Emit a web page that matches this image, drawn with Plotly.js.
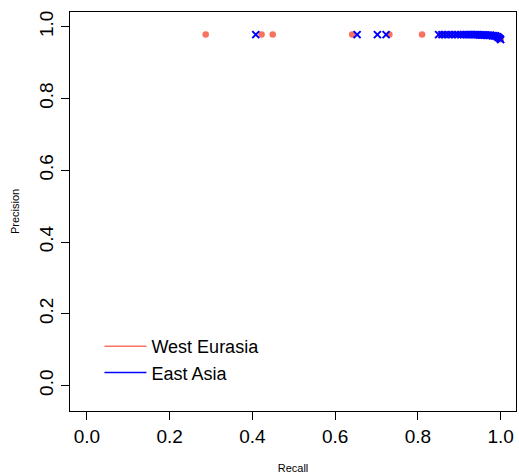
<!DOCTYPE html>
<html>
<head>
<meta charset="utf-8">
<script src="https://cdn.plot.ly/plotly-3.0.1.min.js"></script>
<style>html,body{margin:0;padding:0;background:#fff;}</style>
</head>
<body>
<div id="chart" style="width:519px;height:474px;"></div>
<script>
// West Eurasia (red circles)
const westRecall = [0.287, 0.422, 0.449, 0.641, 0.731, 0.810,
  0.855, 0.862, 0.870, 0.878, 0.886, 0.893, 0.900, 0.906, 0.912, 0.918,
  0.923, 0.928, 0.933, 0.938, 0.942, 0.946, 0.950, 0.954, 0.958, 0.962,
  0.966, 0.970, 0.974, 0.978, 0.982, 0.986, 0.990, 0.994, 0.997, 1.000];
const westPrecision = [0.978, 0.978, 0.978, 0.978, 0.978, 0.978,
  0.978, 0.978, 0.978, 0.978, 0.978, 0.978, 0.978, 0.978, 0.978, 0.978,
  0.978, 0.978, 0.978, 0.978, 0.978, 0.978, 0.977, 0.977, 0.977, 0.977,
  0.977, 0.976, 0.976, 0.976, 0.975, 0.975, 0.974, 0.972, 0.969, 0.965];
// East Asia (blue crosses)
const eastRecall = [0.408, 0.653, 0.702, 0.723,
  0.850, 0.858, 0.866, 0.874, 0.882, 0.890, 0.897, 0.904, 0.910, 0.916,
  0.921, 0.926, 0.931, 0.936, 0.940, 0.944, 0.948, 0.952, 0.956, 0.960,
  0.964, 0.968, 0.972, 0.976, 0.980, 0.984, 0.988, 0.992, 0.995, 0.998, 1.000];
const eastPrecision = [0.978, 0.978, 0.978, 0.978,
  0.978, 0.978, 0.978, 0.978, 0.978, 0.978, 0.978, 0.978, 0.978, 0.978,
  0.978, 0.978, 0.978, 0.978, 0.978, 0.978, 0.977, 0.977, 0.977, 0.977,
  0.977, 0.976, 0.976, 0.976, 0.975, 0.975, 0.974, 0.972, 0.970, 0.967, 0.964];
const tickVals = [0, 0.2, 0.4, 0.6, 0.8, 1.0];
const tickText = ["0.0", "0.2", "0.4", "0.6", "0.8", "1.0"];
const seriesNames = ["West Eurasia", "East Asia"];
const colWest = "#F8735F";
const colEast = "#0000FF";

const font = "Liberation Sans, Arial, Helvetica, sans-serif";

const traces = [
  {x: westRecall, y: westPrecision, type: "scatter", mode: "markers",
   marker: {symbol: "circle", size: 6.5, color: colWest}, showlegend: false, hoverinfo: "skip"},
  {x: eastRecall, y: eastPrecision, type: "scatter", mode: "markers",
   marker: {symbol: "x-thin", size: 7, color: colEast, line: {color: colEast, width: 2}}, showlegend: false, hoverinfo: "skip"},
  {x: [null], y: [null], type: "scatter", mode: "lines", name: seriesNames[0],
   line: {color: colWest, width: 1.5}},
  {x: [null], y: [null], type: "scatter", mode: "lines", name: seriesNames[1],
   line: {color: colEast, width: 1.5}}
];

const axisCommon = {
  showgrid: false, zeroline: false, showline: true, mirror: true,
  linecolor: "#000", linewidth: 1, ticks: "outside", ticklen: 8,
  tickcolor: "#000", tickwidth: 1, tickvals: tickVals, ticktext: tickText,
  tickfont: {family: font, size: 19, color: "#000"}, automargin: true
};

const layout = {
  width: 519, height: 474,
  margin: {l: 70, r: 2, t: 12, b: 60},
  paper_bgcolor: "#fff", plot_bgcolor: "#fff",
  font: {family: font, color: "#000"},
  xaxis: Object.assign({}, axisCommon, {
    range: [-0.041, 1.037],
    title: {text: "Recall", standoff: 18, font: {family: font, size: 11, color: "#000"}}
  }),
  yaxis: Object.assign({}, axisCommon, {
    range: [-0.071, 1.041], tickangle: -90,
    title: {text: "Precision", standoff: 14, font: {family: font, size: 11, color: "#000"}}
  }),
  legend: {
    x: 0.066, y: 0.208, xanchor: "left", yanchor: "top",
    bgcolor: "rgba(0,0,0,0)", borderwidth: 0,
    font: {family: font, size: 18, color: "#000"},
    itemwidth: 42
  }
};

Plotly.newPlot("chart", traces, layout, {displayModeBar: false, staticPlot: true});
</script>
</body>
</html>
